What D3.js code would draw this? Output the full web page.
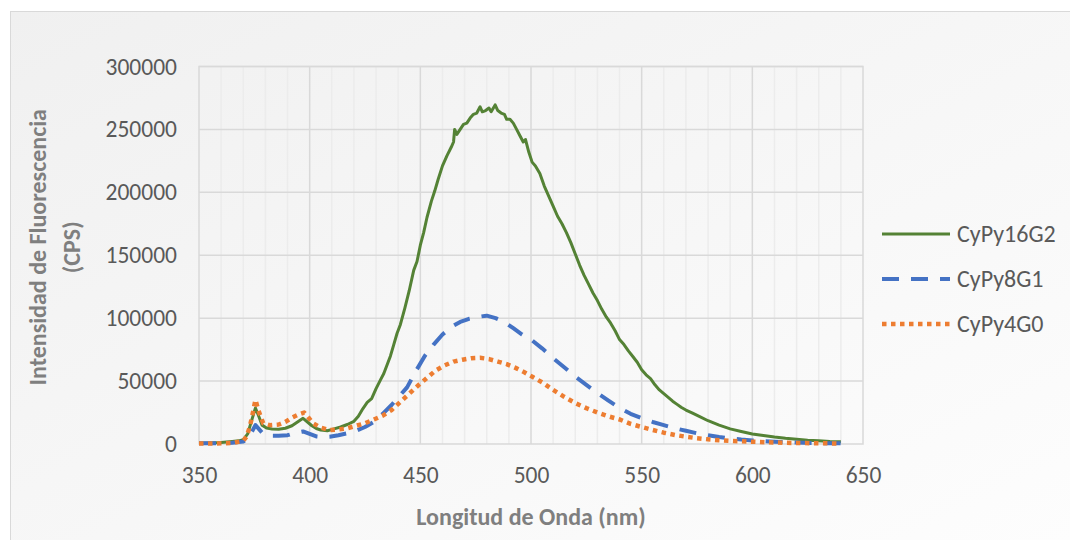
<!DOCTYPE html>
<html>
<head>
<meta charset="utf-8">
<script src="https://cdn.jsdelivr.net/npm/d3@7"></script>
<style>
  body { margin: 0; background: #ffffff; }
  svg { display: block; font-family: Carlito, Calibri, "Open Sans", sans-serif; }
</style>
</head>
<body>
<div id="chart"></div>
<script>
// wavelengths (nm) and intensities (CPS)
const seriesNames = ["CyPy16G2", "CyPy8G1", "CyPy4G0"];

const greenNm = [350, 355, 360, 365, 368, 370, 372, 374, 375.5, 377, 378.5, 380.5, 383, 386, 389, 392, 394.5, 397, 399, 401, 403, 405, 408, 411, 414, 417, 420, 422, 424, 426, 428, 430, 432, 433.5, 435, 436.5, 438, 439.5, 441, 443, 445, 447, 448.5, 450, 451.5, 453, 455, 456.5, 458, 460, 462, 464, 465, 465.5, 466.5, 468, 469.5, 471, 472.5, 474, 475.5, 477, 478, 479.5, 481, 482, 483.8, 485, 486.5, 488, 489, 490.5, 492, 493.5, 495, 496.5, 497.5, 499, 500.5, 502, 504, 506, 508, 510, 512, 514, 516, 518, 520, 522, 524, 526, 528, 530, 532, 534, 536, 538, 540, 542, 544, 546, 548, 550, 552, 554, 556, 558, 560, 562, 564, 566, 568, 570, 573, 576, 580, 585, 590, 595, 600, 605, 610, 615, 620, 625, 630, 635, 640];
const greenVal = [500, 800, 1200, 2000, 2500, 3500, 8000, 20000, 28600, 22000, 15000, 12700, 12000, 11800, 12500, 14500, 17500, 20400, 17500, 14500, 12300, 11100, 10500, 12000, 13500, 15500, 18000, 22000, 28000, 33000, 36000, 44000, 51000, 56000, 63000, 70000, 79000, 88000, 95000, 108000, 122000, 138000, 145000, 158000, 168000, 180000, 193000, 201000, 210000, 221000, 229000, 236000, 240000, 250000, 246000, 250000, 254000, 255000, 259000, 262000, 263000, 268000, 264000, 265000, 267000, 264000, 269500, 265000, 263000, 262000, 258000, 258000, 255000, 250000, 245000, 240000, 242000, 232000, 224000, 221000, 215000, 205000, 197000, 189000, 181000, 175000, 168000, 160000, 151000, 142000, 134000, 127000, 120000, 114000, 107000, 101000, 96000, 90000, 83000, 79000, 74000, 69500, 65000, 59000, 55000, 52000, 47000, 43000, 40000, 37000, 34000, 31500, 29000, 27000, 24500, 22000, 18500, 15000, 12000, 10000, 8000, 6800, 5500, 4500, 3800, 3000, 2500, 2000, 1800];

const blueNm = [350, 360, 365, 370, 372, 374, 375.5, 377, 379, 382, 386, 390, 394, 397, 400, 403, 406, 409, 413, 417, 421, 425, 429, 433, 437, 441, 444, 448, 452, 456, 460, 464, 468, 472, 476, 480, 484, 488, 492, 496, 500, 505, 510, 515, 520, 525, 530, 535, 540, 545, 550, 555, 560, 565, 570, 575, 580, 585, 590, 595, 600, 610, 620, 630, 640];
const blueVal = [500, 700, 1000, 2000, 4000, 10000, 15000, 12000, 8000, 6500, 6500, 7000, 9000, 10000, 8000, 6000, 5500, 5800, 7000, 8500, 10500, 13500, 17500, 24000, 31000, 39000, 45000, 58000, 70000, 79000, 87000, 93000, 97000, 99500, 101000, 102000, 100000, 97000, 92000, 87000, 83000, 76000, 68200, 61000, 53500, 47000, 40500, 34500, 28700, 24000, 20500, 17500, 15000, 12500, 10500, 8500, 7000, 5500, 4500, 3500, 2800, 1800, 1100, 700, 500];

const orangeNm = [350, 360, 365, 370, 371.5, 373, 374, 375.5, 377, 379, 382, 386, 389, 392, 395, 397.5, 399, 401.5, 405, 409, 413, 417, 421, 425, 429, 433, 437, 441, 445, 449, 453, 457, 461, 465, 469, 473, 477, 481, 485, 489, 493, 497, 501, 505, 510, 515, 520, 525, 530, 535, 540, 545, 550, 555, 560, 565, 570, 575, 580, 585, 590, 600, 610, 620, 630, 640];
const orangeVal = [300, 500, 800, 2500, 5800, 14000, 22000, 35000, 26000, 16500, 15000, 15500, 17500, 21000, 23500, 25000, 22000, 16500, 13000, 11100, 11500, 12500, 14500, 16500, 19500, 22500, 27000, 33500, 40000, 46500, 52500, 58500, 62500, 65500, 67000, 68200, 68500, 67500, 65500, 63500, 60500, 57000, 53000, 49000, 43000, 37500, 32500, 28500, 25000, 22000, 19500, 16000, 13500, 11100, 9000, 7200, 5800, 4600, 3700, 3000, 2500, 1800, 1200, 800, 600, 400];

const xTicks = [350, 400, 450, 500, 550, 600, 650];
const yTicks = [0, 50000, 100000, 150000, 200000, 250000, 300000];

const W = 1070, H = 540;
const plot = { left: 199, right: 863, top: 66.5, bottom: 444 };

const svg = d3.select("#chart").append("svg")
  .attr("width", W)
  .attr("height", H);

// chart background with a faint gradient
const defs = svg.append("defs");
const grad = defs.append("linearGradient")
  .attr("id", "bg")
  .attr("x1", "0").attr("y1", "0")
  .attr("x2", "1").attr("y2", "1");
grad.append("stop").attr("offset", "0").attr("stop-color", "#f0f0f0");
grad.append("stop").attr("offset", "1").attr("stop-color", "#fdfdfd");

svg.append("rect")
  .attr("x", 10.5).attr("y", 11.5)
  .attr("width", W - 9).attr("height", H - 10)
  .attr("fill", "url(#bg)")
  .attr("stroke", "#d9d9d9");

const x = d3.scaleLinear().domain([350, 650]).range([plot.left, plot.right]);
const y = d3.scaleLinear().domain([0, 300000]).range([plot.bottom, plot.top]);

// minor vertical grid every 10 nm
svg.append("g")
  .selectAll("line")
  .data(d3.range(360, 650, 10).filter(v => v % 50 !== 0))
  .join("line")
  .attr("x1", d => x(d)).attr("x2", d => x(d))
  .attr("y1", plot.top).attr("y2", plot.bottom)
  .attr("stroke", "#ececec")
  .attr("stroke-width", 1.5);

// major vertical grid
svg.append("g")
  .selectAll("line")
  .data(xTicks.slice(1, -1))
  .join("line")
  .attr("x1", d => x(d)).attr("x2", d => x(d))
  .attr("y1", plot.top).attr("y2", plot.bottom)
  .attr("stroke", "#d9d9d9")
  .attr("stroke-width", 1.5);

// horizontal grid
svg.append("g")
  .selectAll("line")
  .data(yTicks.slice(1))
  .join("line")
  .attr("x1", plot.left).attr("x2", plot.right)
  .attr("y1", d => y(d)).attr("y2", d => y(d))
  .attr("stroke", "#d9d9d9")
  .attr("stroke-width", 1.5);

// plot frame
svg.append("rect")
  .attr("x", plot.left).attr("y", plot.top)
  .attr("width", plot.right - plot.left)
  .attr("height", plot.bottom - plot.top)
  .attr("fill", "none")
  .attr("stroke", "#d9d9d9")
  .attr("stroke-width", 1.5);

// axes (tick labels only)
const xAxis = svg.append("g")
  .attr("transform", `translate(0,${plot.bottom})`)
  .call(d3.axisBottom(x).tickValues(xTicks).tickSize(0).tickPadding(22));
const yAxis = svg.append("g")
  .attr("transform", `translate(${plot.left},0)`)
  .call(d3.axisLeft(y).tickValues(yTicks).tickSize(0).tickPadding(22).tickFormat(d3.format("d")));

[xAxis, yAxis].forEach(g => {
  g.select(".domain").remove();
  g.selectAll("text")
    .style("font-family", "Carlito, Calibri, 'Open Sans', sans-serif")
    .style("font-size", "23.5px")
    .style("fill", "#595959");
});

// axis titles
svg.append("text")
  .attr("x", (plot.left + plot.right) / 2)
  .attr("y", 525)
  .attr("text-anchor", "middle")
  .style("font-size", "24px")
  .style("font-weight", "bold")
  .style("fill", "#7f7f7f")
  .text("Longitud de Onda (nm)");

const yTitle = svg.append("text")
  .attr("transform", `translate(45.5,${(plot.top + plot.bottom) / 2 - 8}) rotate(-90)`)
  .attr("text-anchor", "middle")
  .style("font-size", "24px")
  .style("font-weight", "bold")
  .style("fill", "#7f7f7f");
yTitle.append("tspan").attr("x", 0).attr("y", 0).text("Intensidad de Fluorescencia");
yTitle.append("tspan").attr("x", 0).attr("dy", 34).text("(CPS)");

// series
const series = [
  { name: seriesNames[0], nm: greenNm, val: greenVal, color: "#548235", width: 3, dash: null },
  { name: seriesNames[1], nm: blueNm, val: blueVal, color: "#4472c4", width: 4, dash: "17,12" },
  { name: seriesNames[2], nm: orangeNm, val: orangeVal, color: "#ed7d31", width: 4.5, dash: "4.5,4.5" }
];

const line = d3.line()
  .x(d => x(d[0]))
  .y(d => y(d[1]))
  .curve(d3.curveLinear);

series.forEach(s => {
  svg.append("path")
    .datum(s.nm.map((n, i) => [n, s.val[i]]))
    .attr("fill", "none")
    .attr("stroke", s.color)
    .attr("stroke-width", s.width)
    .attr("stroke-linejoin", "round")
    .attr("stroke-dasharray", s.dash)
    .attr("d", line);
});

// legend
const legend = svg.append("g")
  .selectAll("g")
  .data(series)
  .join("g")
  .attr("transform", (d, i) => `translate(882,${234 + i * 45})`);

legend.append("line")
  .attr("x1", 0).attr("x2", 68)
  .attr("stroke", d => d.color)
  .attr("stroke-width", d => d.width)
  .attr("stroke-dasharray", d => d.dash);

legend.append("text")
  .attr("x", 75)
  .attr("dy", "0.35em")
  .style("font-size", "24px")
  .style("fill", "#595959")
  .text(d => d.name);
</script>
</body>
</html>
